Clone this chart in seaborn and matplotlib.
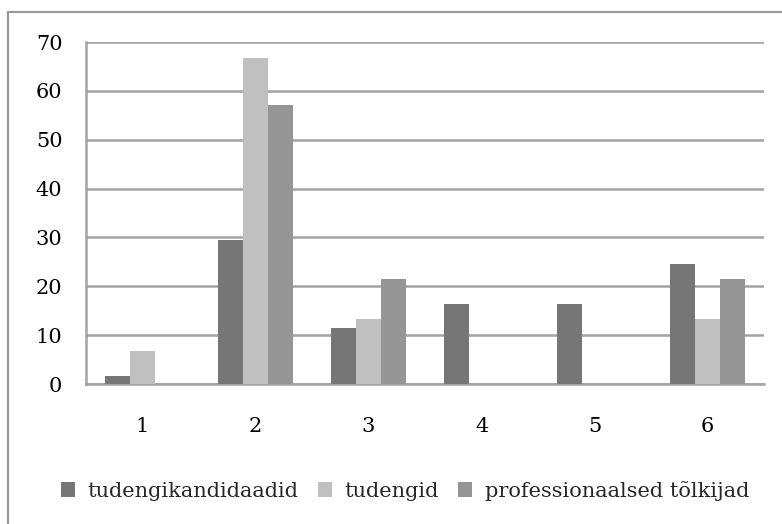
import matplotlib
matplotlib.use("Agg")
import matplotlib.pyplot as plt
from matplotlib.patches import Rectangle, Patch
import seaborn as sns
import pandas as pd

categories = ["1", "2", "3", "4", "5", "6"]
series_names = ["tudengikandidaadid", "tudengid", "professionaalsed tõlkijad"]
tudengikandidaadid = [1.6, 29.5, 11.5, 16.4, 16.4, 24.6]
tudengid = [6.7, 66.7, 13.3, 0.0, 0.0, 13.3]
professionaalsed = [0.0, 57.1, 21.4, 0.0, 0.0, 21.4]
y_ticks = [0, 10, 20, 30, 40, 50, 60, 70]

colors = ["#767676", "#c0c0c0", "#959595"]

rows = []
for name, vals in zip(series_names, [tudengikandidaadid, tudengid, professionaalsed]):
    for cat, v in zip(categories, vals):
        rows.append({"kategooria": cat, "osakaal": v, "rühm": name})
df = pd.DataFrame(rows)

sns.set_theme(style="white")
plt.rcParams["font.family"] = ["DejaVu Serif"]
FS = 15

fig = plt.figure(figsize=(7.82, 5.24), dpi=100)
ax = fig.add_axes([86 / 782, 1 - 384 / 524, (764 - 86) / 782, (384 - 42) / 524])

sns.barplot(data=df, x="kategooria", y="osakaal", hue="rühm", order=categories,
            hue_order=series_names, palette=colors, width=3 / 4.5, gap=0,
            saturation=1, edgecolor="none", linewidth=0, ax=ax, legend=False, zorder=3)

grid_color = "#a3a3a3"
ax.set_ylim(0, 70)
ax.set_xlim(-0.5, len(categories) - 0.5)
ax.set_yticks(y_ticks)
ax.set_yticklabels([str(t) for t in y_ticks], fontsize=FS, color="black")
ax.set_xticks(range(len(categories)))
ax.set_xticklabels(categories, fontsize=FS, color="black")
ax.set_xticks([i - 0.5 for i in range(len(categories) + 1)], minor=True)
ax.tick_params(axis="x", which="major", length=0, pad=24)
ax.tick_params(axis="x", which="minor", length=6, width=1.6, color=grid_color, direction="out")
ax.tick_params(axis="y", which="major", length=6, width=1.8, color=grid_color, direction="out", pad=11)
ax.yaxis.grid(True, color=grid_color, linewidth=1.8, zorder=0)
ax.set_axisbelow(True)
for side in ["top", "right"]:
    ax.spines[side].set_visible(False)
for side in ["left", "bottom"]:
    ax.spines[side].set_color(grid_color)
    ax.spines[side].set_linewidth(1.8)
ax.set_xlabel("")
ax.set_ylabel("")

handles = [Patch(facecolor=c, edgecolor="none") for c in colors]
fig.legend(handles, series_names, loc="center", bbox_to_anchor=(405 / 782, 1 - 491 / 524),
           ncol=3, frameon=False, fontsize=FS, handlelength=0.7, handleheight=0.7,
           handletextpad=0.6, columnspacing=0.9, borderpad=0, borderaxespad=0)

# outer chart frame
fig.patches.append(Rectangle((8 / 782, -0.05), 1.1, 1 - 12 / 524 + 0.05,
                             transform=fig.transFigure, fill=False,
                             edgecolor="#9a9a9a", linewidth=1.6))

fig.savefig("out.png", dpi=100)
